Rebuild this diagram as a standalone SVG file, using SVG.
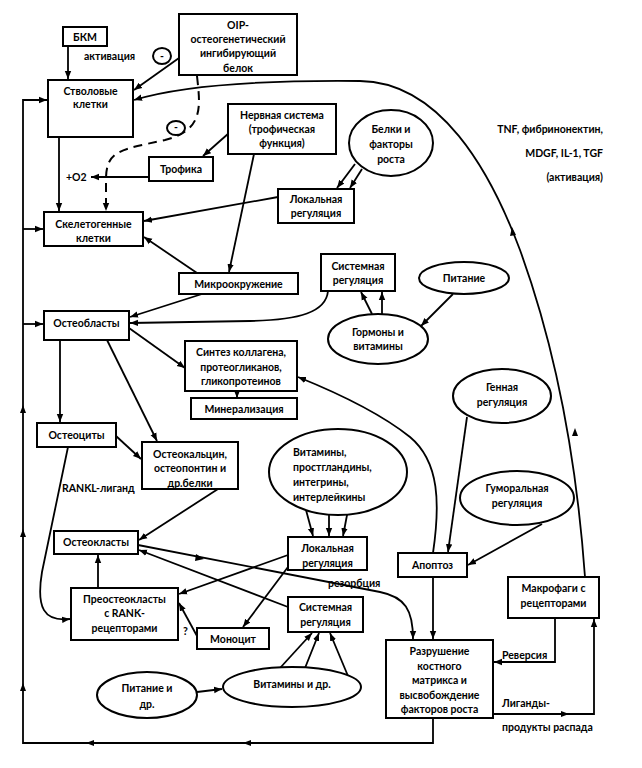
<svg xmlns="http://www.w3.org/2000/svg" width="642" height="768" viewBox="0 0 642 768">
<style>
.b{fill:#fff;stroke:#000;stroke-width:2}
.t{font-family:Lato,"Liberation Sans",sans-serif;font-weight:bold;font-size:10.5px;text-anchor:middle;dominant-baseline:central;fill:#000}
.s{text-anchor:start}
.e{text-anchor:end}
.c{fill:none;stroke:#000;stroke-width:1.8}
.a{marker-end:url(#ah)}
.d{stroke-dasharray:9,6;stroke-width:2}
</style>
<defs>
<marker id="ah" viewBox="0 0 10 10" refX="10" refY="5" markerWidth="8" markerHeight="8" markerUnits="userSpaceOnUse" orient="auto"><path d="M0,1 L10,5 L0,9 z" fill="#000"/></marker>
</defs>
<rect width="642" height="768" fill="#fff"/>
<g id="connectors">
<path class="c a" d="M68,46 L68,79"/>
<path class="c a" d="M179,58 L134,90"/>
<path class="c a" d="M585,577 C578,480 560,360 520,250 C490,170 440,82 360,81 C260,80 180,86 134,100"/>
<path class="c a d" d="M197,76 C200,105 205,130 165,140 C120,150 106,150 106,180 L106,211"/>
<path class="c a" d="M229,133 L203,156"/>
<path class="c a" d="M149,177 L91,177"/>
<path class="c a" d="M59,137 L59,211"/>
<path class="c a" d="M433,718 L433,743 L23,743 L23,100 L47,100"/>
<path class="c a" d="M23,229 L43,229"/>
<path class="c a" d="M23,324 L43,324"/>
<path class="c a" d="M278,197 L144,221"/>
<path class="c a" d="M355,164 L337,188"/>
<path class="c a" d="M362,169 L350,188"/>
<path class="c a" d="M254,154 L229,272"/>
<path class="c a" d="M197,273 L144,237"/>
<path class="c a" d="M202,294 L130,317"/>
<path class="c a" d="M328,291 C326,312 300,320 250,321 L130,323"/>
<path class="c a" d="M372,314 L361,292"/>
<path class="c a" d="M382,314 L382,292"/>
<path class="c a" d="M453,294 L421,326"/>
<path class="c a" d="M129,328 L185,368"/>
<path class="c a" d="M237,391 L237,398"/>
<path class="c a" d="M433,553 C440,505 440,462 410,437 C385,417 350,398 298,377"/>
<path class="c a" d="M60,340 L60,422"/>
<path class="c a" d="M107,340 L157,441"/>
<path class="c a" d="M116,436 L141,459"/>
<path class="c a" d="M218,489 L139,540"/>
<path class="c a" d="M68,447 L42,572 C36,608 44,622 70,619"/>
<path class="c a" d="M98,588 L98,555"/>
<path class="c a" d="M197,636 L179,603"/>
<path class="c a" d="M138,545 L380,592 C405,597 413,610 413,639"/>
<path class="c a" d="M288,607 L139,550"/>
<path class="c a" d="M288,555 L179,594"/>
<path class="c a" d="M288,567 L243,627"/>
<path class="c a" d="M306,510 L313,536"/>
<path class="c a" d="M329,510 L329,536"/>
<path class="c a" d="M348,510 L343,536"/>
<path class="c a" d="M467,417 L448,552"/>
<path class="c a" d="M542,524 L468,565"/>
<path class="c a" d="M433,577 L433,639"/>
<path class="c a" d="M197,692 L222,689"/>
<path class="c a" d="M280,668 L312,633"/>
<path class="c a" d="M305,668 L319,633"/>
<path class="c a" d="M348,676 L330,633"/>
<path class="c a" d="M555,618 L555,662 L494,662"/>
<path class="c a" d="M493,714 L594,714 L594,619"/>
<g fill="#000">
<path d="M575,428 L578,436 L572,436 z"/>
<path d="M512,227 L516,235 L510,236 z"/>
<path d="M23,405 L26,413 L20,413 z"/>
<path d="M23,529 L26,537 L20,537 z"/>
<path d="M23,683 L26,691 L20,691 z"/>
<path d="M86,743 L94,740 L94,746 z"/>
<path d="M243,743 L251,740 L251,746 z"/>
<path d="M204,559 L196,554 L195,561 z"/>
<path d="M569,714 L561,711 L561,717 z"/>
</g>
</g>
<g id="bkm"><rect class="b" x="63" y="27" width="44" height="19"/><text class="t" x="85" y="36.5">БКМ</text></g>
<g id="oip"><rect class="b" x="179" y="14" width="118" height="61"/><text class="t" x="238" y="25">OIP-</text><text class="t" x="238" y="39">остеогенетический</text><text class="t" x="238" y="53">ингибирующий</text><text class="t" x="238" y="68">белок</text></g>
<g id="minus1"><ellipse class="b" cx="162" cy="56" rx="9" ry="8" stroke-width="1.5"/><text class="t" x="162" y="56">-</text></g>
<g id="minus2"><ellipse class="b" cx="176" cy="128" rx="9" ry="7" stroke-width="1.5"/><text class="t" x="176" y="127">-</text></g>
<g id="stem"><rect class="b" x="48" y="80" width="85" height="57"/><text class="t" x="90.5" y="91">Стволовые</text><text class="t" x="90.5" y="104">клетки</text></g>
<g id="nerv"><rect class="b" x="228" y="104" width="108" height="50"/><text class="t" x="282" y="115">Нервная система</text><text class="t" x="282" y="129">(трофическая</text><text class="t" x="282" y="143">функция)</text></g>
<g id="trof"><rect class="b" x="149" y="157" width="64" height="24"/><text class="t" x="181" y="169">Трофика</text></g>
<g id="skel"><rect class="b" x="44" y="212" width="99" height="34"/><text class="t" x="93.5" y="224">Скелетогенные</text><text class="t" x="93.5" y="238">клетки</text></g>
<g id="lok1"><rect class="b" x="278" y="189" width="76" height="34"/><text class="t" x="316" y="199">Локальная</text><text class="t" x="316" y="213">регуляция</text></g>
<g id="belki"><ellipse class="b" cx="391" cy="143" rx="42" ry="33"/><text class="t" x="391" y="129">Белки и</text><text class="t" x="391" y="144">факторы</text><text class="t" x="391" y="159">роста</text></g>
<g id="mikro"><rect class="b" x="179" y="273" width="119" height="21"/><text class="t" x="238.5" y="284">Микроокружение</text></g>
<g id="sys1"><rect class="b" x="321" y="254" width="74" height="37"/><text class="t" x="358" y="266">Системная</text><text class="t" x="358" y="280">регуляция</text></g>
<g id="pit1"><ellipse class="b" cx="464" cy="278" rx="45" ry="16"/><text class="t" x="464" y="278">Питание</text></g>
<g id="gorm"><ellipse class="b" cx="378" cy="339" rx="50" ry="25"/><text class="t" x="378" y="332">Гормоны и</text><text class="t" x="378" y="346">витамины</text></g>
<g id="osteobl"><rect class="b" x="44" y="311" width="85" height="29"/><text class="t" x="86.5" y="323">Остеобласты</text></g>
<g id="sintez"><rect class="b" x="185" y="341" width="112" height="50"/><text class="t" x="241" y="352">Синтез коллагена,</text><text class="t" x="241" y="367">протеогликанов,</text><text class="t" x="241" y="381">гликопротеинов</text></g>
<g id="miner"><rect class="b" x="191" y="398" width="106" height="21"/><text class="t" x="244" y="409">Минерализация</text></g>
<g id="gen"><ellipse class="b" cx="502" cy="396" rx="49" ry="27"/><text class="t" x="502" y="387">Генная</text><text class="t" x="502" y="402">регуляция</text></g>
<g id="osteoc"><rect class="b" x="37" y="423" width="79" height="24"/><text class="t" x="76.5" y="435">Остеоциты</text></g>
<g id="osteokal"><rect class="b" x="142" y="442" width="96" height="47"/><text class="t" x="190" y="454">Остеокальцин,</text><text class="t" x="190" y="468">остеопонтин и</text><text class="t" x="190" y="483">др.белки</text></g>
<g id="vitprost"><ellipse class="b" cx="338" cy="472" rx="69" ry="43"/><text class="t s" x="293" y="452">Витамины,</text><text class="t s" x="293" y="467">простгландины,</text><text class="t s" x="293" y="482">интегрины,</text><text class="t s" x="293" y="497">интерлейкины</text></g>
<g id="gum"><ellipse class="b" cx="517" cy="498" rx="57" ry="27"/><text class="t" x="517" y="488">Гуморальная</text><text class="t" x="517" y="503">регуляция</text></g>
<g id="osteokl"><rect class="b" x="54" y="531" width="84" height="23"/><text class="t" x="96" y="542">Остеокласты</text></g>
<g id="lok2"><rect class="b" x="288" y="537" width="79" height="33"/><text class="t" x="327.5" y="548">Локальная</text><text class="t" x="327.5" y="563">регуляция</text></g>
<g id="apopt"><rect class="b" x="398" y="553" width="69" height="24"/><text class="t" x="432.5" y="565">Апоптоз</text></g>
<g id="preost"><rect class="b" x="71" y="588" width="107" height="52"/><text class="t" x="124.5" y="599">Преостеокласты</text><text class="t" x="124.5" y="613">с RANK-</text><text class="t" x="124.5" y="628">рецепторами</text></g>
<g id="sys2"><rect class="b" x="288" y="597" width="75" height="35"/><text class="t" x="325.5" y="607">Системная</text><text class="t" x="325.5" y="622">регуляция</text></g>
<g id="monocyt"><rect class="b" x="197" y="628" width="72" height="21"/><text class="t" x="233" y="639">Моноцит</text></g>
<g id="makro"><rect class="b" x="508" y="577" width="91" height="41"/><text class="t" x="553.5" y="588">Макрофаги с</text><text class="t" x="553.5" y="603">рецепторами</text></g>
<g id="razr"><rect class="b" x="386" y="640" width="107" height="78"/><text class="t" x="439.5" y="651">Разрушение</text><text class="t" x="439.5" y="666">костного</text><text class="t" x="439.5" y="680">матрикса и</text><text class="t" x="439.5" y="695">высвобождение</text><text class="t" x="439.5" y="709">факторов роста</text></g>
<g id="pit2"><ellipse class="b" cx="147" cy="695" rx="50" ry="23"/><text class="t" x="147" y="688">Питание и</text><text class="t" x="147" y="704">др.</text></g>
<g id="vit2"><ellipse class="b" cx="292" cy="687" rx="69" ry="20"/><text class="t" x="292" y="684">Витамины и др.</text></g>
<g id="labels">
<text class="t s" x="84" y="56">активация</text>
<text class="t s" x="66" y="177">+O2</text>
<text class="t e" x="603" y="129">TNF, фибринонектин,</text>
<text class="t e" x="603" y="153">MDGF, IL-1, TGF</text>
<text class="t e" x="603" y="177">(активация)</text>
<text class="t s" x="62" y="488">RANKL-лиганд</text>
<text class="t s" x="183" y="631">?</text>
<text class="t s" x="328" y="583">резорбция</text>
<text class="t s" x="502" y="655">Реверсия</text>
<text class="t s" x="502" y="703">Лиганды-</text>
<text class="t s" x="502" y="727">продукты распада</text>
</g>
</svg>
